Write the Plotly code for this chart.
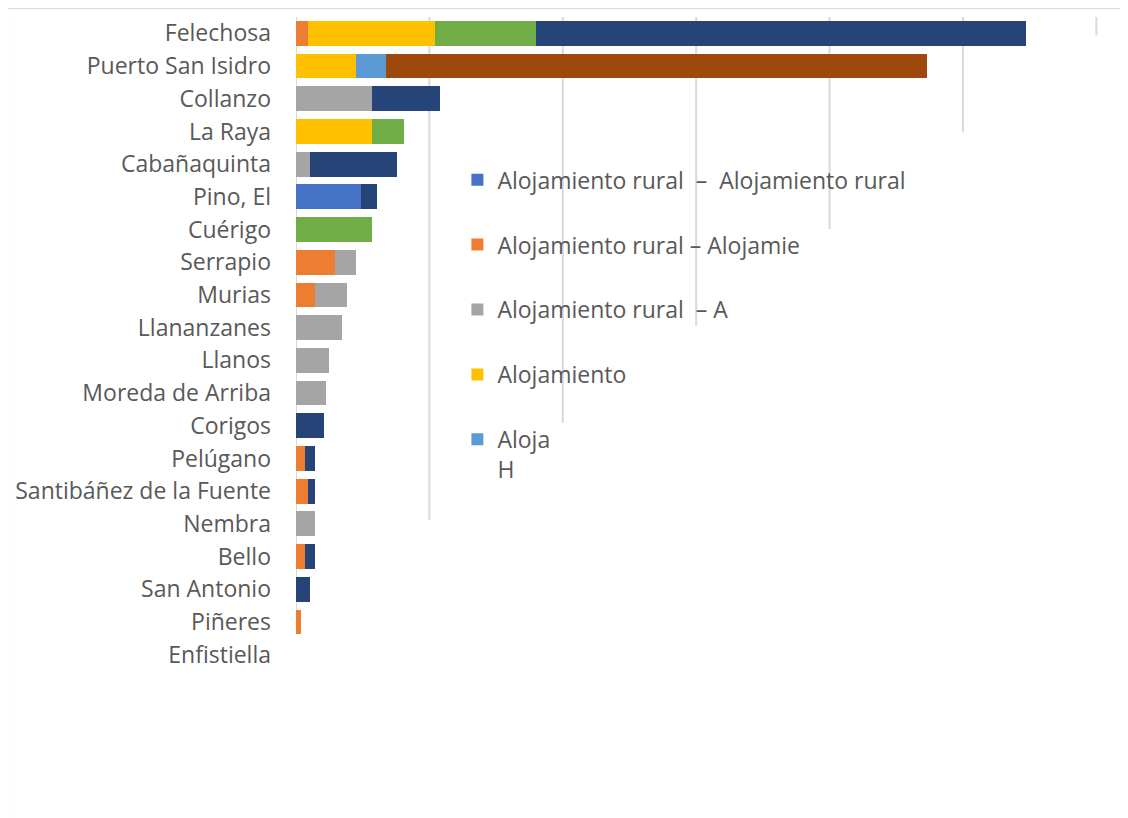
#!/usr/bin/env python
"""
Alojamiento rural por localidad.
Stacked horizontal bar chart rebuilt in plotly, Excel look.
"""

import plotly.graph_objects as go

# Localidades, top to bottom
LOCALIDADES = [
    "Felechosa", "Puerto San Isidro", "Collanzo", "La Raya", "Cabañaquinta",
    "Pino, El", "Cuérigo", "Serrapio", "Murias", "Llananzanes", "Llanos",
    "Moreda de Arriba", "Corigos", "Pelúgano", "Santibáñez de la Fuente",
    "Nembra", "Bello", "San Antonio", "Piñeres", "Enfistiella",
]

# Series names as shown in the (truncated) legend
SERIES_NAMES = [
    "Alojamiento rural  –  Alojamiento rural",
    "Alojamiento rural – Alojamie",
    "Alojamiento rural  – A",
    "Alojamiento",
    "Aloja<br>H",
    "Serie 6",
    "Serie 7",
    "Serie 8",
]

# values (gridline step = 10)
S1 = [0, 0, 0, 0, 0, 4.90, 0, 0, 0, 0, 0, 0, 0, 0, 0, 0, 0, 0, 0, 0]
S2 = [0.90, 0, 0, 0, 0, 0, 0, 2.92, 1.42, 0, 0, 0, 0, 0.65, 0.90, 0, 0.65, 0, 0.40, 0]
S3 = [0, 0, 5.72, 0, 1.05, 0, 0, 1.60, 2.42, 3.45, 2.50, 2.25, 0, 0, 0, 1.45, 0, 0, 0, 0]
S4 = [9.50, 4.50, 0, 5.72, 0, 0, 0, 0, 0, 0, 0, 0, 0, 0, 0, 0, 0, 0, 0, 0]
S5 = [0, 2.25, 0, 0, 0, 0, 0, 0, 0, 0, 0, 0, 0, 0, 0, 0, 0, 0, 0, 0]
S6 = [7.57, 0, 0, 2.38, 0, 0, 5.70, 0, 0, 0, 0, 0, 0, 0, 0, 0, 0, 0, 0, 0]
S7 = [36.78, 0, 5.07, 0, 6.54, 1.20, 0, 0, 0, 0, 0, 0, 2.10, 0.80, 0.55, 0, 0.80, 1.05, 0, 0]
S8 = [0, 40.55, 0, 0, 0, 0, 0, 0, 0, 0, 0, 0, 0, 0, 0, 0, 0, 0, 0, 0]

# Excel default palette
COLORS = ["#4472C4", "#ED7D31", "#A5A5A5", "#FFC000",
          "#5B9BD5", "#70AD47", "#264478", "#9E480E"]

GRID_VALUES = [10, 20, 30, 40, 50, 60]
TEXT_COLOR = "#595959"
LINE_COLOR = "#D9D9D9"
FONT = "Open Sans"


def build_figure() -> go.Figure:
    """Build the stacked bar figure."""
    fig = go.Figure()
    all_series = [S1, S2, S3, S4, S5, S6, S7, S8]
    for i, values in enumerate(all_series):
        fig.add_trace(
            go.Bar(
                x=values,
                y=LOCALIDADES,
                orientation="h",
                name=SERIES_NAMES[i],
                marker=dict(color=COLORS[i], line=dict(width=0)),
                legendgroup=f"g{i}",
                showlegend=i < 5,
            )
        )

    # gridlines, drawn as shapes since they stop at staircase heights
    for k, gx in enumerate(GRID_VALUES):
        fig.add_shape(
            type="line", xref="x", yref="paper",
            x0=gx, x1=gx, y0=0.231 + k * 0.1482, y1=1,
            line=dict(color=LINE_COLOR, width=2), layer="below",
        )
    # category axis line
    fig.add_shape(
        type="line", xref="x", yref="paper", x0=0, x1=0, y0=0.083, y1=1,
        line=dict(color=LINE_COLOR, width=2), layer="below",
    )
    # chart area border (top + left)
    fig.add_shape(
        type="line", xref="paper", yref="paper",
        x0=-0.358, x1=1.1, y0=1.0138, y1=1.0138,
        line=dict(color=LINE_COLOR, width=2),
    )
    fig.add_shape(
        type="line", xref="paper", yref="paper",
        x0=-0.358, x1=-0.358, y0=1.0138, y1=-0.25,
        line=dict(color=LINE_COLOR, width=2),
    )

    fig.update_layout(
        width=1128,
        height=818,
        barmode="stack",
        bargap=0.24,
        plot_bgcolor="white",
        paper_bgcolor="white",
        margin=dict(l=288, r=33, t=9, b=155),
        font=dict(family=FONT, size=23, color=TEXT_COLOR),
        legend=dict(
            x=0.2, y=0.784, xanchor="left", yanchor="top",
            traceorder="grouped", tracegroupgap=32, valign="top",
            bgcolor="rgba(0,0,0,0)",
            font=dict(family=FONT, size=23, color=TEXT_COLOR),
        ),
    )
    fig.update_xaxes(
        range=[0, 60.5], showgrid=False, zeroline=False,
        showticklabels=False, showline=False, automargin=False,
    )
    fig.update_yaxes(
        autorange="reversed", showgrid=False, showline=False,
        ticks="", ticklabelstandoff=24, automargin=False,
    )
    return fig


def main() -> None:
    fig = build_figure()
    fig.write_html("out.html")


if __name__ == "__main__":
    main()
